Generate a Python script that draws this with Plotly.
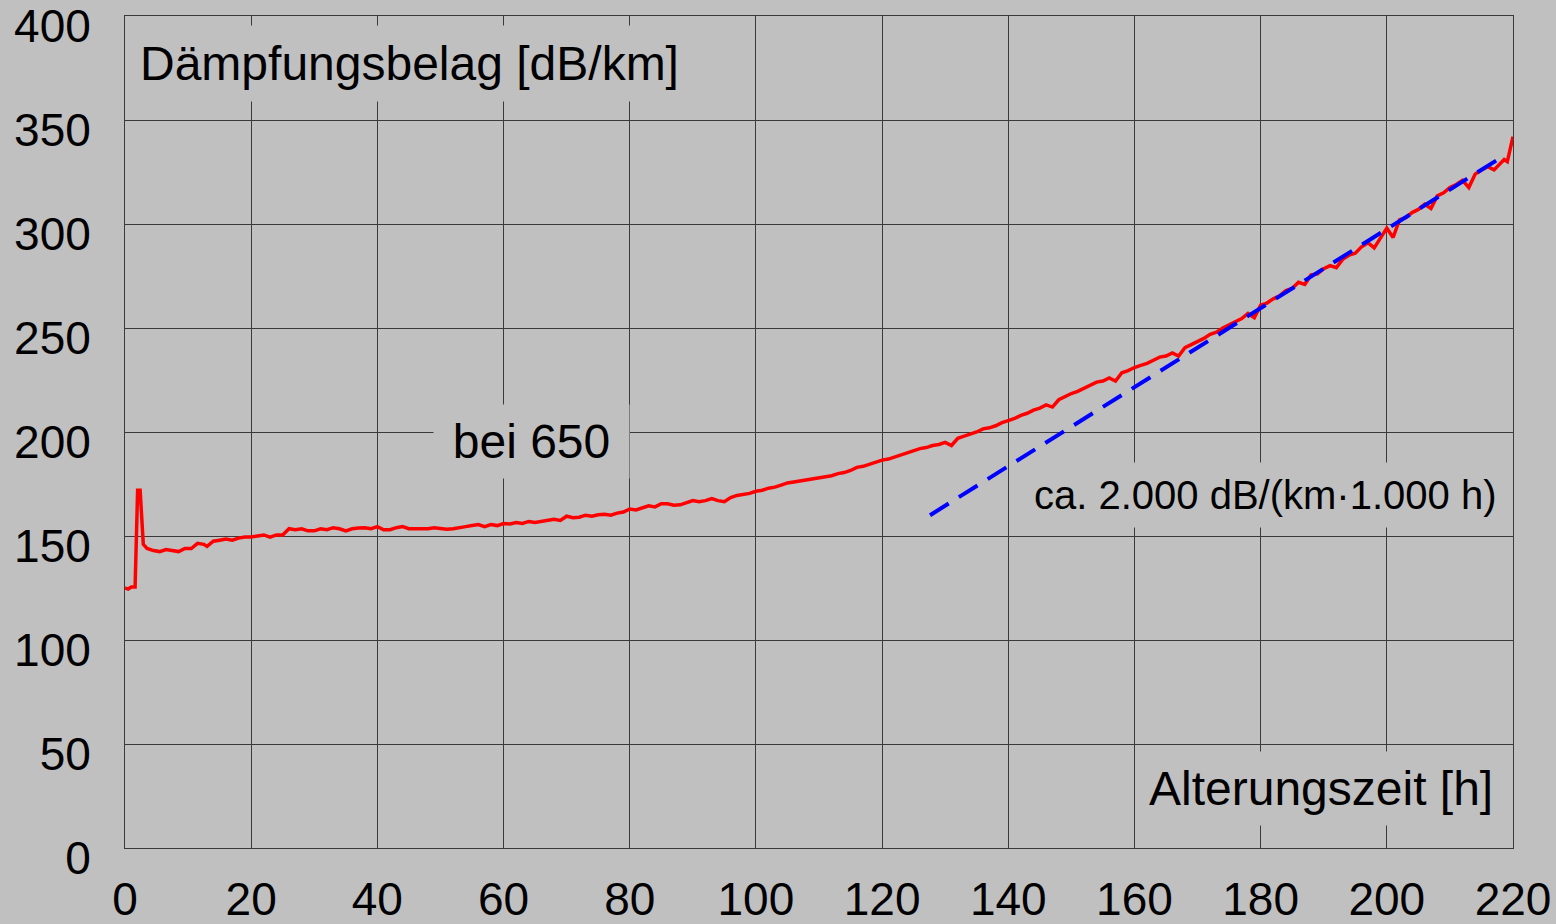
import plotly.graph_objects as go

# Measured attenuation versus ageing time (hours, dB/km)
hours = [
    0, 0.5, 1.0, 1.6, 2.0, 2.4, 2.9, 3.5, 4.5, 5.5, 6.5, 7.5, 8.5, 9.5, 10.5,
    11.5, 12.5, 13.0, 14, 15, 16, 17, 18, 19, 20, 21, 22, 23, 24, 25, 26, 27,
    28, 29, 30, 31, 32, 33, 34, 35, 36, 37, 38, 39, 40, 41, 42, 43, 44, 45,
    46, 47, 48, 49, 50, 51, 52, 53, 54, 55, 56, 57, 58, 59, 60, 61, 62, 63,
    64, 65, 66, 67, 68, 69, 70, 71, 72, 73, 74, 75, 76, 77, 78, 79, 80, 81,
    82, 83, 84, 85, 86, 87, 88, 89, 90, 91, 92, 93, 94, 95, 96, 97, 98, 99,
    100, 101, 102, 103, 104, 105, 106, 107, 108, 109, 110, 111, 112, 113,
    114, 115, 116, 117, 118, 119, 120, 121, 122, 123, 124, 125, 126, 127,
    128, 129, 130, 131, 132, 133, 134, 135, 136, 137, 138, 139, 140, 141,
    142, 143, 144, 145, 146, 147, 148, 149, 150, 151, 152, 153, 154, 155,
    156, 157, 158, 159, 160, 161, 162, 163, 164, 165, 166, 167, 168, 169,
    170, 171, 172, 173, 174, 175, 176, 177, 178, 179, 180, 181, 182, 183,
    184, 185, 186, 187, 188, 189, 190, 191, 192, 193, 194, 195, 196, 197,
    198, 199, 200, 201, 202, 203, 204, 205, 206, 207, 208, 209, 210, 211,
    212, 213, 214, 215, 216, 217, 218, 218.6, 219.1, 219.6, 220,
]
attenuation = [
    125, 124.5, 125.5, 125.5, 172, 172, 146, 144, 143, 142.5, 143.5, 143,
    142.5, 144, 144, 146.5, 146, 145, 147.5, 148, 148.5, 148, 149, 149.5,
    149.5, 150, 150.5, 149.5, 150.5, 150.5, 153.5, 153, 153.5, 152.5, 152.5,
    153.5, 153, 154, 153.5, 152.5, 153.5, 153.8, 154, 153.5, 154.5, 153,
    153, 154, 154.5, 153.5, 153.5, 153.8, 153.5, 154, 153.8, 153.2, 153.5,
    154.2, 154.5, 155, 155.5, 154.5, 155.5, 155, 156, 155.8, 156.5, 156,
    157, 156.5, 157, 157.8, 158, 157.5, 159.5, 158.8, 159, 160, 159.5,
    160.2, 160.5, 160, 161, 161.5, 163, 162.5, 163.5, 164.5, 164, 165.5,
    165.5, 164.8, 165, 166, 167, 166.5, 167, 168, 167, 166.5, 168.5, 169.5,
    170, 170.5, 171.5, 172, 173, 173.5, 174.5, 175.5, 176, 176.5, 177, 177.5,
    178, 178.5, 179, 180, 180.5, 181.5, 183, 183.5, 184.5, 185.5, 186.5,
    187, 188, 189, 190, 191, 192, 192.5, 193.5, 194, 195, 193.5, 197, 198,
    199, 200, 201.5, 202, 203, 204.5, 205.5, 206.5, 208, 209, 210.5, 211.5,
    213, 212, 215.5, 217, 218.5, 219.5, 221, 222.5, 224, 224.5, 226, 224.5,
    228.5, 229.5, 231, 232, 233, 234.5, 236, 236.5, 238, 236.5, 240.5, 242,
    243.5, 245, 247, 248, 250, 251.5, 253, 254.5, 257, 255, 261, 262, 264,
    265.5, 268, 269, 272, 271, 275.5, 276, 278.5, 280, 279, 283, 285, 286,
    289, 291, 288.5, 293, 298, 293.5, 302, 303, 305.5, 307, 309.5, 307.5,
    313.5, 315, 317.5, 319, 321, 317.5, 324, 326, 327.5, 326, 329.5, 331,
    330, 336, 342, 344,
]

# Linear trend of the late ageing phase (~2 dB/km per hour)
trend_hours = [127.6, 218.5]
trend_attenuation = [160, 332.7]

x_ticks = [0, 20, 40, 60, 80, 100, 120, 140, 160, 180, 200, 220]
y_ticks = [0, 50, 100, 150, 200, 250, 300, 350, 400]

bg = "#C0C0C0"
grid = "#3a3a3a"
font_main = "Liberation Sans, Arial, sans-serif"

fig = go.Figure()
fig.add_trace(go.Scatter(
    x=hours, y=attenuation, mode="lines",
    line=dict(color="#FF0000", width=3.5),
    showlegend=False, hoverinfo="skip",
))
fig.add_trace(go.Scatter(
    x=trend_hours, y=trend_attenuation, mode="lines",
    line=dict(color="#0000FF", width=4, dash="22px,12px"),
    showlegend=False, hoverinfo="skip",
))

fig.update_xaxes(
    range=[0, 220], tickvals=x_ticks, ticktext=[str(v) for v in x_ticks],
    showgrid=True, gridcolor=grid, gridwidth=1,
    showline=True, linecolor=grid, linewidth=1, mirror=True,
    zeroline=False, ticks="", ticklabelstandoff=11, automargin=False,
    ticklabeloverflow="allow",
    tickfont=dict(family=font_main, size=46, color="#000000"),
)
fig.update_yaxes(
    range=[0, 400], tickvals=y_ticks, ticktext=[str(v) for v in y_ticks],
    showgrid=True, gridcolor=grid, gridwidth=1,
    showline=True, linecolor=grid, linewidth=1, mirror=True,
    zeroline=False, ticks="", ticklabelstandoff=24, automargin=False,
    ticklabeloverflow="allow", ticklabelshift=10,
    tickfont=dict(family=font_main, size=46, color="#000000"),
)

label_font = dict(family=font_main, size=48, color="#000000")
annotations = [
    dict(text="Dämpfungsbelag [dB/km]", x=0.45, xref="x", xanchor="left",
         y=377, yref="y", yanchor="middle", font=label_font,
         borderpad=11),
    dict(text="bei 650", x=64.5, xref="x", xanchor="center",
         y=195.2, yref="y", yanchor="middle", font=label_font,
         width=175, borderpad=10),
    dict(text="ca. 2.000 dB/(km·1.000 h)", x=180.7, xref="x",
         xanchor="center", y=169.7, yref="y", yanchor="middle",
         font=dict(family=font_main, size=40, color="#000000"),
         borderpad=10),
    dict(text="Alterungszeit [h]", x=189.6, xref="x", xanchor="center",
         y=28.4, yref="y", yanchor="middle", font=label_font,
         borderpad=10),
]
for a in annotations:
    a.update(showarrow=False, bgcolor=bg)
    fig.add_annotation(**a)

fig.update_layout(
    width=1556, height=924,
    paper_bgcolor=bg, plot_bgcolor=bg,
    margin=dict(l=125, r=43, t=16, b=76),
)

fig.write_html("out.html")
